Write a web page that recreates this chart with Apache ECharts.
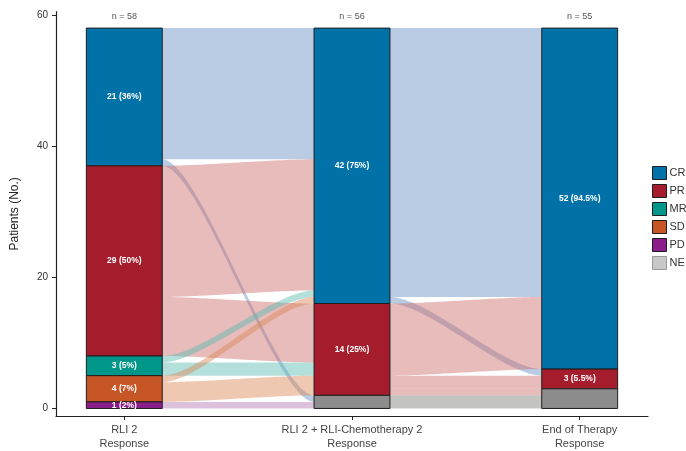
<!DOCTYPE html>
<html>
<head>
<meta charset="utf-8">
<script src="https://cdn.jsdelivr.net/npm/echarts@6/dist/echarts.min.js"></script>
<style>
  html, body { margin: 0; padding: 0; background: #ffffff; }
  #chart { width: 686px; height: 451px; }
</style>
</head>
<body>
<div id="chart"></div>
<script>
// Response assessments at three time points (alluvial plot)
const stageNames = ['RLI 2\nResponse', 'RLI 2 + RLI-Chemotherapy 2\nResponse', 'End of Therapy\nResponse'];
const stagePos = [1, 2, 3];
const responses = ['CR', 'PR', 'MR', 'SD', 'PD', 'NE']; // top of stack first
const countCR = [21, 42, 52];
const countPR = [29, 14, 3];
const countMR = [3, 0, 0];
const countSD = [4, 0, 0];
const countPD = [1, 0, 0];
const countNE = [0, 2, 3];
const evaluable = [58, 56, 55];
const pctDigits = [0, 0, 1];
const yTicks = [0, 20, 40, 60];

// patient transitions: [from, to, patients]
const flowsStage1to2 = [
  ['CR', 'CR', 20], ['CR', 'NE', 1],
  ['PR', 'CR', 20], ['PR', 'PR', 9],
  ['MR', 'CR', 1], ['MR', 'PR', 2],
  ['SD', 'CR', 1], ['SD', 'PR', 3],
  ['PD', 'NE', 1]
];
const flowsStage2to3 = [
  ['CR', 'CR', 41], ['CR', 'PR', 1],
  ['PR', 'CR', 11], ['PR', 'PR', 2], ['PR', 'NE', 1],
  ['NE', 'NE', 2]
];

const countsBy = { CR: countCR, PR: countPR, MR: countMR, SD: countSD, PD: countPD, NE: countNE };
const barColors = { CR: '#0072a8', PR: '#a51d2d', MR: '#00968a', SD: '#c75626', PD: '#8b1e8b', NE: '#8c8c8c' };
const legendColors = { CR: '#0072a8', PR: '#a51d2d', MR: '#00968a', SD: '#c75626', PD: '#8b1e8b', NE: '#c8c8c8' };
const flowColors = {
  CR: 'rgba(100,142,196,0.45)',
  PR: 'rgba(204,106,104,0.45)',
  MR: 'rgba(88,186,177,0.45)',
  SD: 'rgba(219,133,84,0.45)',
  PD: 'rgba(177,115,177,0.45)',
  NE: 'rgba(124,126,122,0.45)'
};
const halfWidth = 1 / 6;
const FONT = 'Liberation Sans, Arial, sans-serif';

// stratum extents per stage, stacked from the bottom (NE first)
const bounds = stagePos.map((_, s) => {
  const b = {};
  let cursor = 0;
  responses.slice().reverse().forEach(r => {
    const n = countsBy[r][s];
    b[r] = [cursor, cursor + n];
    cursor += n;
  });
  return b;
});
const totals = stagePos.map((_, s) => responses.reduce((a, r) => a + countsBy[r][s], 0));

// lode positions for each flow
function buildFlows(list, s) {
  const rank = r => responses.indexOf(r);
  const out = list.map(f => ({ from: f[0], to: f[1], n: f[2] }));
  responses.forEach(r => {
    let c = bounds[s][r][1];
    out.filter(f => f.from === r).sort((a, b) => rank(a.to) - rank(b.to)).forEach(f => {
      f.a = [c - f.n, c]; c -= f.n;
    });
    c = bounds[s + 1][r][1];
    out.filter(f => f.to === r).sort((a, b) => rank(a.from) - rank(b.from)).forEach(f => {
      f.b = [c - f.n, c]; c -= f.n;
    });
  });
  return out.map(f => ({
    value: [stagePos[s] + halfWidth, f.a[0], f.a[1], stagePos[s + 1] - halfWidth, f.b[0], f.b[1]],
    itemStyle: { color: flowColors[f.from] }
  }));
}
const flowData = buildFlows(flowsStage1to2, 0).concat(buildFlows(flowsStage2to3, 1));

function renderFlow(params, api) {
  const x0 = api.value(0), a0 = api.value(1), a1 = api.value(2);
  const x1 = api.value(3), b0 = api.value(4), b1 = api.value(5);
  const k = 0.25, N = 48;
  const bx = t => 3 * t * (1 - t) * (1 - t) * k + 3 * t * t * (1 - t) * (1 - k) + t * t * t;
  const by = t => 3 * t * t - 2 * t * t * t;
  const pts = [];
  for (let i = 0; i <= N; i++) {
    const t = i / N;
    pts.push(api.coord([x0 + (x1 - x0) * bx(t), a1 + (b1 - a1) * by(t)]));
  }
  for (let i = N; i >= 0; i--) {
    const t = i / N;
    pts.push(api.coord([x0 + (x1 - x0) * bx(t), a0 + (b0 - a0) * by(t)]));
  }
  return {
    type: 'polygon',
    shape: { points: pts },
    style: { fill: api.visual('color') },
    silent: true
  };
}

function pctText(n, s) {
  return (n / evaluable[s] * 100).toFixed(pctDigits[s]) + '%';
}

function renderBar(params, api) {
  const x = api.value(0), lo = api.value(1), hi = api.value(2);
  const n = api.value(3), s = api.value(4);
  const p0 = api.coord([x - halfWidth, hi]);
  const p1 = api.coord([x + halfWidth, lo]);
  const r = responses[api.value(5)];
  const el = {
    type: 'rect',
    shape: { x: p0[0], y: p0[1], width: p1[0] - p0[0], height: p1[1] - p0[1] },
    style: { fill: barColors[r], stroke: '#1e1e1e', lineWidth: 1 },
    z2: 10
  };
  if (r !== 'NE') {
    el.textContent = {
      style: {
        text: n + ' (' + pctText(n, s) + ')',
        fill: '#ffffff', fontSize: 8.5, fontWeight: 'bold', fontFamily: FONT
      },
      z2: 20
    };
    el.textConfig = { position: 'inside' };
  }
  return el;
}

const barSeries = responses.map((r, ri) => ({
  name: r,
  type: 'custom',
  renderItem: renderBar,
  itemStyle: { color: legendColors[r] },
  z: 5,
  silent: true,
  data: stagePos.map((x, s) => [x, bounds[s][r][0], bounds[s][r][1], countsBy[r][s], s, ri])
    .filter(d => d[3] > 0)
}));

const option = {
  animation: false,
  backgroundColor: '#ffffff',
  textStyle: { fontFamily: FONT },
  grid: { left: 56, right: 38, top: 11.7, bottom: 34 },
  legend: {
    orient: 'vertical',
    left: 647,
    top: 161,
    icon: 'rect',
    itemWidth: 14,
    itemHeight: 13,
    itemGap: 4,
    selectedMode: false,
    textStyle: { fontSize: 11, color: '#333333', fontFamily: FONT, padding: [0, 0, 0, -2] },
    itemStyle: { borderColor: '#1e1e1e', borderWidth: 1 },
    data: responses.map(r => ({
      name: r,
      itemStyle: { color: legendColors[r], borderColor: r === 'NE' ? '#9a9a9a' : '#1e1e1e' }
    }))
  },
  xAxis: {
    type: 'value',
    min: 0.7,
    max: 3.3,
    splitLine: { show: false },
    axisLine: { show: true, onZero: false, lineStyle: { color: '#222222', width: 1.2 } },
    axisTick: { show: true, customValues: stagePos, length: 4, lineStyle: { color: '#222222' } },
    axisLabel: {
      customValues: stagePos,
      formatter: v => stageNames[Math.round(v) - 1],
      fontSize: 11, color: '#444444', lineHeight: 14, margin: 7, fontFamily: FONT
    }
  },
  yAxis: {
    type: 'value',
    min: -1.15,
    max: 60.5,
    name: 'Patients (No.)',
    nameLocation: 'middle',
    nameGap: 35,
    nameTextStyle: { fontSize: 12, color: '#222222', fontFamily: FONT },
    splitLine: { show: false },
    axisLine: { show: true, lineStyle: { color: '#222222', width: 1.2 } },
    axisTick: { show: true, customValues: yTicks, length: 4, lineStyle: { color: '#222222' } },
    axisLabel: { customValues: yTicks, fontSize: 10, color: '#333333', margin: 8, fontFamily: FONT }
  },
  series: [
    {
      name: 'flows',
      type: 'custom',
      renderItem: renderFlow,
      z: 1,
      silent: true,
      data: flowData
    },
    ...barSeries,
    {
      name: 'n',
      type: 'custom',
      z: 6,
      silent: true,
      renderItem: (params, api) => {
        const p = api.coord([api.value(0), api.value(1)]);
        return {
          type: 'text',
          x: p[0], y: p[1] - 7,
          style: {
            text: 'n = ' + api.value(2),
            fill: '#555555', fontSize: 9, fontFamily: FONT,
            align: 'center', verticalAlign: 'bottom'
          }
        };
      },
      data: stagePos.map((x, s) => [x, totals[s], evaluable[s]])
    }
  ]
};

const chart = echarts.init(document.getElementById('chart'), null, { renderer: 'canvas' });
chart.setOption(option);
</script>
</body>
</html>
